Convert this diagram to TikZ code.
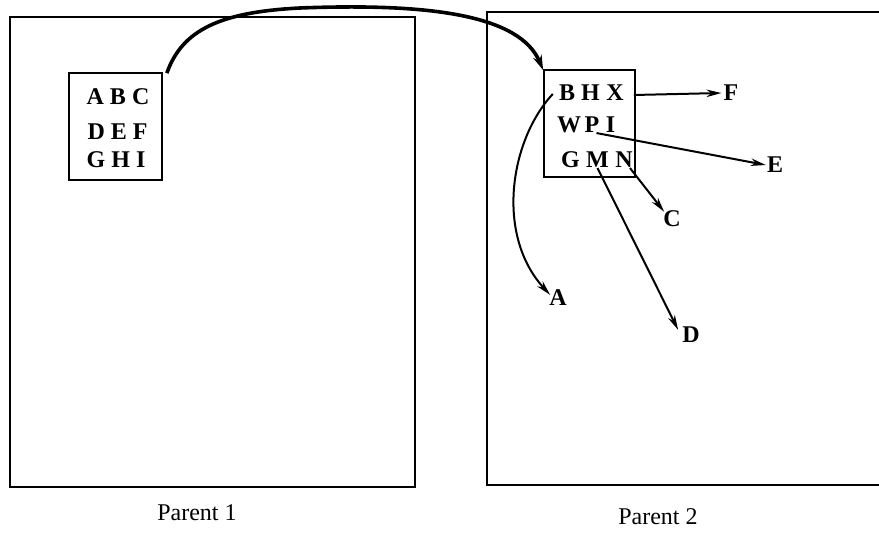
\documentclass[tikz,border=0pt]{standalone}
\usepackage{fontspec}
\setmainfont{Liberation Serif}
\usetikzlibrary{arrows.meta}
\begin{document}
\begin{tikzpicture}[x=1pt,y=-1pt,
  frame/.style={draw,line width=1.7pt},
  letter/.style={inner sep=0pt,font=\fontsize{24}{24}\selectfont\bfseries},
  row/.style={inner sep=0pt,font=\fontsize{24}{24}\selectfont\bfseries},
  caption/.style={inner sep=0pt,font=\fontsize{24}{24}\selectfont},
  conn/.style={line width=2pt,-{Stealth[length=15pt,width=7.5pt]}},
  bigconn/.style={line width=3.6pt,-{Stealth[length=15pt,width=9pt]}}]
\useasboundingbox (0,0) rectangle (879,540);
% parent frames
\draw[frame] (10,17) rectangle (415,487);
\draw[frame] (880,12) -- (487,12) -- (487,485) -- (880,485);
% parent 1 small box
\node[frame,minimum width=93pt,minimum height=107pt,inner sep=0pt] (box1) at (115.5,126.5) {};
\node[row] (r1) at (118,97) {A B C};
\node[row] (r2) at (117.5,132) {D E F};
\node[row] (r3) at (116,160) {G H I};
% parent 2 small box
\node[frame,minimum width=91pt,minimum height=107pt,inner sep=0pt] (box2) at (589.5,123.5) {};
\node[letter] (B) at (567,93) {B};
\node[letter] (H) at (590.5,93) {H};
\node[letter] (X) at (615,93) {X};
\node[letter] (W) at (569,125) {W};
\node[letter] (P) at (592,125) {P};
\node[letter] (I) at (610.5,125) {I};
\node[letter] (G) at (570.5,160) {G};
\node[letter] (M) at (597.5,160) {M};
\node[letter] (N) at (624,160) {N};
% targets
\node[letter] (F) at (731,93) {F};
\node[letter] (E) at (775,165) {E};
\node[letter] (C) at (672,219) {C};
\node[letter] (A) at (558,298) {A};
\node[letter] (D) at (691,335) {D};
% captions
\node[caption] (p1) at (197,513) {Parent 1};
\node[caption] (p2) at (658,517) {Parent 2};
% big arc
\draw[bigconn] ([xshift=4pt,yshift=-1pt]box1.north east) .. controls (182,30) and (220,12) .. (300,8)
  .. controls (430,3) and (520,15) .. ([yshift=-1pt]box2.north west);
% arrows
\draw[conn] ([xshift=10pt,yshift=-2pt]X.east) -- ([xshift=-2pt]F.west);
\draw[conn] ([xshift=-3pt]P.south east) -- ([xshift=-1pt]E.west);
\draw[conn] ([xshift=6pt]N.south) -- ([xshift=1pt,yshift=-1pt]C.north west);
\draw[conn] (M.south) -- ([xshift=-4pt,yshift=-3pt]D.north west);
\draw[conn] ([xshift=-6pt,yshift=-1pt]B.west) .. controls (510,140) and (495,235) .. ([xshift=1pt,yshift=-5pt]A.north west);
\end{tikzpicture}
\end{document}
